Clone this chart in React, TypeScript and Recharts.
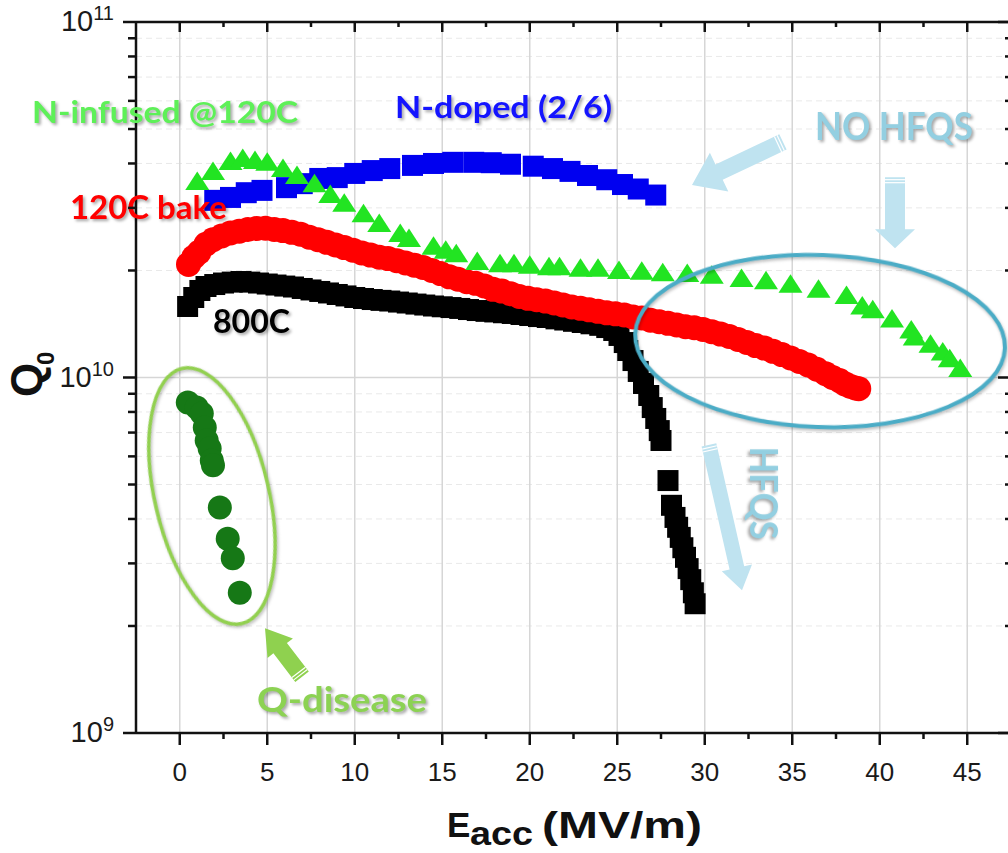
import React from 'react';
import { ScatterChart, Scatter, XAxis, YAxis, ReferenceLine, ReferenceDot } from 'recharts';

// ---------- data (Q in units of 1e10) ----------
const Q_UNIT = 1e10;

// 800C (black squares)
const E_800 = [
  0.45, 0.8, 1.15, 1.5, 2.0, 2.5, 3.0, 3.5, 4.0, 4.5,
  5.0, 5.5, 6.0, 6.5, 7.0, 7.5, 8.0, 8.5, 9.0, 9.5,
  10.0, 10.5, 11.0, 11.5, 12.0, 12.5, 13.0, 13.5, 14.0, 14.5,
  15.0, 15.5, 16.0, 16.5, 17.0, 17.5, 18.0, 18.5, 19.0, 19.5,
  20.0, 20.5, 21.0, 21.5, 22.0, 22.5, 23.0, 23.5, 24.0, 24.4,
  24.8, 25.1, 25.4, 25.6, 25.9, 26.2, 26.5, 26.8, 27.0, 27.2,
  27.4, 27.5, 27.9, 28.1, 28.3, 28.45, 28.6, 28.75, 28.9, 29.05,
  29.2, 29.35, 29.45,
];
const Q_800 = [
  1.584, 1.679, 1.757, 1.803, 1.826, 1.844, 1.855, 1.862, 1.855, 1.844,
  1.832, 1.82, 1.808, 1.797, 1.78, 1.763, 1.746, 1.729, 1.712, 1.696,
  1.679, 1.668, 1.657, 1.648, 1.641, 1.63, 1.62, 1.609, 1.599, 1.589,
  1.581, 1.573, 1.564, 1.553, 1.543, 1.535, 1.529, 1.521, 1.514, 1.504,
  1.494, 1.484, 1.475, 1.462, 1.451, 1.439, 1.428, 1.416, 1.402, 1.382,
  1.356, 1.313, 1.254, 1.191, 1.116, 1.04, 0.962, 0.89, 0.823, 0.767,
  0.709, 0.665, 0.513, 0.437, 0.404, 0.379, 0.355, 0.332, 0.312, 0.29,
  0.27, 0.248, 0.231,
];

// 120C bake (red circles)
const E_BAKE = [
  0.5, 0.8, 1.1, 1.5, 1.9, 2.4, 2.9, 3.4, 3.9, 4.4,
  4.9, 5.4, 5.9, 6.4, 6.9, 7.4, 7.9, 8.4, 8.9, 9.4,
  9.9, 10.4, 10.9, 11.4, 11.9, 12.4, 12.9, 13.4, 13.9, 14.4,
  14.9, 15.4, 15.9, 16.4, 16.9, 17.4, 17.9, 18.4, 18.9, 19.4,
  19.9, 20.4, 20.9, 21.4, 21.9, 22.4, 22.9, 23.4, 23.9, 24.4,
  24.9, 25.4, 25.9, 26.4, 26.9, 27.4, 27.9, 28.4, 28.9, 29.4,
  29.9, 30.4, 30.9, 31.4, 31.9, 32.4, 32.9, 33.4, 33.9, 34.4,
  34.9, 35.4, 35.9, 36.4, 36.9, 37.3, 37.7, 38.0, 38.3, 38.6,
  38.8,
];
const Q_BAKE = [
  2.08, 2.18, 2.25, 2.37, 2.44, 2.5, 2.55, 2.58, 2.61, 2.625,
  2.63, 2.61, 2.59, 2.56, 2.53, 2.48, 2.44, 2.4, 2.36, 2.32,
  2.28, 2.24, 2.21, 2.18, 2.16, 2.13, 2.1, 2.07, 2.04, 2.0,
  1.96, 1.92, 1.89, 1.86, 1.84, 1.81, 1.77, 1.75, 1.72, 1.69,
  1.67, 1.655, 1.64, 1.62, 1.6, 1.58, 1.565, 1.55, 1.535, 1.52,
  1.51, 1.5, 1.48, 1.47, 1.45, 1.435, 1.42, 1.405, 1.39, 1.38,
  1.365, 1.345, 1.325, 1.305, 1.28, 1.255, 1.23, 1.21, 1.185, 1.16,
  1.135, 1.11, 1.085, 1.055, 1.025, 1.0, 0.98, 0.96, 0.945, 0.935,
  0.93,
];

// N-doped (2/6) (blue squares)
const E_NDOPED = [
  2.0, 2.9, 3.8, 4.7, 6.1, 7.0, 8.0, 9.0, 10.0, 11.0,
  12.0, 13.3, 14.5, 15.6, 16.8, 17.8, 18.9, 20.2, 21.3, 22.3,
  23.3, 24.4, 25.3, 26.2, 27.2,
];
const Q_NDOPED = [
  3.15, 3.21, 3.31, 3.36, 3.42, 3.51, 3.63, 3.65, 3.75, 3.82,
  3.87, 3.95, 4.0, 4.03, 4.03, 4.02, 3.98, 3.93, 3.87, 3.8,
  3.7, 3.6, 3.49, 3.39, 3.26,
];

// N-infused @120C (green triangles)
const E_NINF = [
  1.0, 1.9, 2.9, 3.6, 4.3, 5.0, 5.9, 6.7, 7.7, 8.6,
  9.4, 10.5, 11.4, 12.6, 13.1, 14.5, 15.2, 15.8, 17.0, 18.3,
  19.1, 20.0, 21.1, 21.7, 22.9, 23.9, 25.1, 26.4, 27.6, 29.0,
  30.4, 32.1, 33.5, 34.9, 36.5, 38.1, 39.0, 39.6, 40.7, 41.8,
  42.0, 42.9, 43.6, 44.0, 44.6,
];
const Q_NINF = [
  3.56, 3.8, 4.05, 4.13, 4.08, 4.03, 3.87, 3.7, 3.51, 3.27,
  3.09, 2.89, 2.71, 2.54, 2.46, 2.34, 2.28, 2.23, 2.12, 2.09,
  2.09, 2.07, 2.05, 2.05, 2.03, 2.03, 2.0, 1.99, 1.97, 1.96,
  1.94, 1.9, 1.87, 1.83, 1.77, 1.7, 1.59, 1.55, 1.46, 1.36,
  1.3, 1.24, 1.18, 1.13, 1.06,
];

// Q-disease (dark green circles)
const E_QDIS = [0.46, 0.97, 1.26, 1.43, 1.54, 1.71, 1.83, 1.9, 2.29, 2.74, 3.03, 3.43];
const Q_QDIS = [0.851, 0.823, 0.792, 0.723, 0.665, 0.631, 0.584, 0.566, 0.431, 0.352, 0.31, 0.248];

// axes
const X_DOMAIN = [-2.5, 47.5];
const X_MAJOR = [0, 5, 10, 15, 20, 25, 30, 35, 40, 45];
const X_MINOR = [2.5, 7.5, 12.5, 17.5, 22.5, 27.5, 32.5, 37.5, 42.5];
const Y_DOMAIN = [1e9, 1e11];
const Y_MAJOR = [1e9, 1e10, 1e11];
const Y_MINOR = [2e9, 3e9, 4e9, 5e9, 6e9, 7e9, 8e9, 9e9, 2e10, 3e10, 4e10, 5e10, 6e10, 7e10, 8e10, 9e10];

const X_TICKS = [...X_MAJOR, ...X_MINOR].sort((a, b) => a - b);
const Y_TICKS = [...Y_MAJOR, ...Y_MINOR].sort((a, b) => a - b);

const toPoints = (es: number[], qs: number[]) => es.map((e, i) => ({ x: e, y: qs[i] * Q_UNIT }));
const d800 = toPoints(E_800, Q_800);
const dBake = toPoints(E_BAKE, Q_BAKE);
const dNdoped = toPoints(E_NDOPED, Q_NDOPED);
const dNinf = toPoints(E_NINF, Q_NINF);
const dQdis = toPoints(E_QDIS, Q_QDIS);

// annotations (data coordinates)
type Note = { text: string; x: number; y: number; color: string; size: number; len: number; rotate?: number };
const NOTES: Note[] = [
  { text: 'N-infused @120C', x: -0.84, y: 5.2e10, color: '#5ef058', size: 31, len: 266 },
  { text: 'N-doped (2/6)', x: 18.5, y: 5.37e10, color: '#1414ff', size: 31, len: 217 },
  { text: '120C bake', x: -1.79, y: 2.79e10, color: '#ff0000', size: 32, len: 157 },
  { text: '800C', x: 4.1, y: 1.334e10, color: '#000000', size: 32, len: 77 },
  { text: 'NO HFQS', x: 40.81, y: 4.66e10, color: '#93cfe1', size: 38, len: 158 },
  { text: 'HFQS', x: 33.44, y: 4.73e9, color: '#93cfe1', size: 38, len: 93, rotate: 90 },
  { text: 'Q-disease', x: 9.27, y: 1.146e9, color: '#8cd253', size: 34, len: 170 },
];

type Arrow = { x1: number; y1: number; x2: number; y2: number; w: number; hw: number; hl: number; color: string };
const ARROWS: Arrow[] = [
  { x1: 34.47, y1: 4.6e10, x2: 29.27, y2: 3.48e10, w: 17, hw: 43, hl: 30, color: '#bfe3f0' },
  { x1: 40.87, y1: 3.66e10, x2: 40.87, y2: 2.31e10, w: 20, hw: 40, hl: 19, color: '#bfe3f0' },
  { x1: 30.24, y1: 6.46e9, x2: 32.13, y2: 2.52e9, w: 15, hw: 31, hl: 23, color: '#bfe3f0' },
  { x1: 6.99, y1: 1.44e9, x2: 4.87, y2: 1.97e9, w: 17, hw: 32, hl: 25, color: '#8fd14f' },
];

type Oval = { x: number; y: number; rx: number; ry: number; angle: number; color: string; sw: number };
const OVALS: Oval[] = [
  { x: 1.84, y: 4.64e9, rx: 57, ry: 131, angle: -13.2, color: '#92d050', sw: 3.5 },
  { x: 36.59, y: 1.267e10, rx: 185, ry: 86, angle: 2.2, color: '#4bacc6', sw: 4 },
];

const FONT_AXIS = "'Liberation Sans', Arial, sans-serif";
const FONT_NOTE = "Lato, 'Open Sans', sans-serif";

// ---------- tick renderers ----------
const BottomTick = (p: any) => {
  const { x, y, payload } = p;
  const v = payload.value;
  const major = X_MAJOR.includes(v);
  return (
    <g>
      <line x1={x} x2={x} y1={y} y2={y + (major ? 12 : 6)} stroke="#111" strokeWidth={2.5} />
      {major && (
        <text x={x} y={y + 48} textAnchor="middle" fontSize={26} fontFamily={FONT_AXIS} fill="#1a1a1a">
          {v}
        </text>
      )}
    </g>
  );
};

const TopTick = (p: any) => {
  const { x, y, payload } = p;
  const major = X_MAJOR.includes(payload.value);
  return <line x1={x} x2={x} y1={y} y2={y + (major ? 10 : 5)} stroke="#111" strokeWidth={2.5} />;
};

const LeftTick = (p: any) => {
  const { x, y, payload } = p;
  const v = payload.value;
  const major = Y_MAJOR.includes(v);
  const exp = Math.round(Math.log10(v));
  return (
    <g>
      <line x1={x - (major ? 13 : 8)} x2={x} y1={y} y2={y} stroke="#111" strokeWidth={2.5} />
      {major && (
        <text x={x - 22} y={y + 9} textAnchor="end" fontSize={29} fontFamily={FONT_AXIS} fill="#1a1a1a">
          10
          <tspan dy={-11} fontSize={20}>
            {exp}
          </tspan>
        </text>
      )}
    </g>
  );
};

const RightTick = (p: any) => {
  const { x, y, payload } = p;
  const major = Y_MAJOR.includes(payload.value);
  return <line x1={x - (major ? 13 : 6)} x2={x} y1={y} y2={y} stroke="#111" strokeWidth={2.5} />;
};

// ---------- axis labels ----------
const XLabel = (p: any) => {
  const vb = p.viewBox || { x: 136, y: 733, width: 875, height: 1 };
  const cx = vb.x + vb.width / 2;
  const y = vb.y;
  return (
    <g fontFamily={FONT_AXIS} fontWeight={700} fill="#111">
      <text x={cx - 126.5} y={y + 104} fontSize={35}>E</text>
      <text x={cx - 103.5} y={y + 112} fontSize={34} textLength={63} lengthAdjust="spacingAndGlyphs">acc</text>
      <text x={cx - 31.5} y={y + 105} fontSize={36} textLength={160} lengthAdjust="spacingAndGlyphs">(MV/m)</text>
    </g>
  );
};

const QLabel = (p: any) => {
  const vb = p.viewBox || { x: 135, y: 22, width: 1, height: 711 };
  const x = vb.x + vb.width - 94;
  const y = vb.y + vb.height / 2 + 19.5;
  return (
    <g transform={`translate(${x},${y}) rotate(-90)`} fontFamily={FONT_AXIS} fontWeight={700} fill="#111">
      <text x={0} y={0} fontSize={44}>Q</text>
      <text x={32} y={12} fontSize={24}>0</text>
    </g>
  );
};

// ---------- marker shapes ----------
const squareShape = (color: string, s: number) => (p: any) =>
  <rect x={p.cx - s / 2} y={p.cy - s / 2} width={s} height={s} fill={color} />;
const circleShape = (color: string, r: number) => (p: any) => <circle cx={p.cx} cy={p.cy} r={r} fill={color} />;
const triangleShape = (color: string) => (p: any) => (
  <polygon points={`${p.cx},${p.cy - 10} ${p.cx - 12},${p.cy + 8.5} ${p.cx + 12},${p.cy + 8.5}`} fill={color} />
);

// ---------- annotation shapes ----------
const shadow = { filter: 'drop-shadow(2px 2px 1.5px rgba(0,0,0,0.35))' };

const noteShape = (n: Note) => (p: any) => {
  const common = {
    fontFamily: FONT_NOTE,
    fontWeight: 700,
    fontSize: n.size,
    fill: n.color,
    textLength: n.len,
    lengthAdjust: 'spacingAndGlyphs',
    style: shadow,
  } as any;
  if (n.rotate) {
    return (
      <text
        x={p.cx}
        y={p.cy}
        textAnchor="middle"
        dominantBaseline="central"
        transform={`rotate(${n.rotate} ${p.cx} ${p.cy})`}
        {...common}
      >
        {n.text}
      </text>
    );
  }
  return (
    <text x={p.cx} y={p.cy} textAnchor="middle" {...common}>
      {n.text}
    </text>
  );
};

const ovalShape = (o: Oval) => (p: any) => (
  <ellipse
    cx={p.cx}
    cy={p.cy}
    rx={o.rx}
    ry={o.ry}
    transform={`rotate(${o.angle} ${p.cx} ${p.cy})`}
    fill="none"
    stroke={o.color}
    strokeWidth={o.sw}
    style={{ filter: 'drop-shadow(1.5px 2px 1.5px rgba(0,0,0,0.25))' }}
  />
);

const arrowShape = (a: Arrow) => (p: any) => {
  const { x1, y1, x2, y2 } = p;
  if (![x1, y1, x2, y2].every((v) => typeof v === 'number' && isFinite(v))) return <g />;
  const dx = x2 - x1;
  const dy = y2 - y1;
  const L = Math.hypot(dx, dy) || 1;
  const ux = dx / L;
  const uy = dy / L;
  const nx = -uy;
  const ny = ux;
  const bx = x2 - ux * a.hl;
  const by = y2 - uy * a.hl;
  const pt = (px: number, py: number) => `${px.toFixed(1)},${py.toFixed(1)}`;
  const pts = [
    pt(x1 + (nx * a.w) / 2, y1 + (ny * a.w) / 2),
    pt(bx + (nx * a.w) / 2, by + (ny * a.w) / 2),
    pt(bx + (nx * a.hw) / 2, by + (ny * a.hw) / 2),
    pt(x2, y2),
    pt(bx - (nx * a.hw) / 2, by - (ny * a.hw) / 2),
    pt(bx - (nx * a.w) / 2, by - (ny * a.w) / 2),
    pt(x1 - (nx * a.w) / 2, y1 - (ny * a.w) / 2),
  ].join(' ');
  const stripe = (d: number) => (
    <line
      x1={x1 + ux * d + (nx * a.w) / 2}
      y1={y1 + uy * d + (ny * a.w) / 2}
      x2={x1 + ux * d - (nx * a.w) / 2}
      y2={y1 + uy * d - (ny * a.w) / 2}
      stroke="#ffffff"
      strokeWidth={1.2}
    />
  );
  return (
    <g>
      <polygon points={pts} fill={a.color} />
      {stripe(2.5)}
      {stripe(5.5)}
    </g>
  );
};

const axisCommon = {
  type: 'number' as const,
  interval: 0 as const,
  allowDataOverflow: true,
  tickLine: false,
  tickSize: 0,
  tickMargin: 0,
  axisLine: { stroke: '#111', strokeWidth: 2.5 },
};

export default function App() {
  return (
    <div style={{ width: 1008, height: 853, overflow: 'hidden', background: '#fff' }}>
      <style>{'body{margin:0;background:#fff;}'}</style>
      <ScatterChart width={1012} height={853} margin={{ top: 21, right: 0, bottom: 119, left: 135 }}>
        <XAxis
          {...axisCommon}
          dataKey="x"
          domain={X_DOMAIN}
          ticks={X_TICKS}
          height={1}
          tick={(p: any) => <BottomTick {...p} />}
          label={<XLabel />}
        />
        <XAxis
          {...axisCommon}
          xAxisId="top"
          orientation="top"
          dataKey="x"
          domain={X_DOMAIN}
          ticks={X_TICKS}
          height={1}
          tick={(p: any) => <TopTick {...p} />}
        />
        <YAxis
          {...axisCommon}
          dataKey="y"
          scale="log"
          domain={Y_DOMAIN}
          ticks={Y_TICKS}
          width={1}
          tick={(p: any) => <LeftTick {...p} />}
          label={<QLabel />}
        />
        <YAxis
          {...axisCommon}
          yAxisId="right"
          orientation="right"
          dataKey="y"
          scale="log"
          domain={Y_DOMAIN}
          ticks={Y_TICKS}
          width={1}
          tick={(p: any) => <RightTick {...p} />}
        />

        {/* grid */}
        {Y_MINOR.map((v) => (
          <ReferenceLine key={`gy${v}`} y={v} stroke="#e9e9e9" strokeWidth={1} strokeDasharray="6 4" zIndex={-100} />
        ))}
        {X_MAJOR.map((v) => (
          <ReferenceLine key={`gx${v}`} x={v} stroke="#d6d6d6" strokeWidth={1.5} zIndex={-100} />
        ))}
        <ReferenceLine y={1e10} stroke="#d6d6d6" strokeWidth={1.5} zIndex={-100} />

        {/* series */}
        <Scatter name="800C" data={d800} fill="#000" shape={squareShape('#000000', 21)} isAnimationActive={false} />
        <Scatter name="120C bake" data={dBake} fill="#f00" shape={circleShape('#ff0000', 12.5)} isAnimationActive={false} />
        <Scatter name="N-doped (2/6)" data={dNdoped} fill="#00f" shape={squareShape('#0000f0', 21)} isAnimationActive={false} />
        <Scatter name="N-infused @120C" data={dNinf} fill="#2e2" shape={triangleShape('#22e422')} isAnimationActive={false} />
        <Scatter name="Q-disease" data={dQdis} fill="#157a15" shape={circleShape('#167816', 12)} isAnimationActive={false} />

        {/* annotations */}
        {OVALS.map((o, i) => (
          <ReferenceDot key={`ov${i}`} x={o.x} y={o.y} r={0} shape={ovalShape(o)} zIndex={1500} />
        ))}
        {ARROWS.map((a, i) => (
          <ReferenceLine
            key={`ar${i}`}
            segment={[
              { x: a.x1, y: a.y1 },
              { x: a.x2, y: a.y2 },
            ]}
            shape={arrowShape(a)}
            zIndex={1500}
          />
        ))}
        {NOTES.map((n, i) => (
          <ReferenceDot key={`nt${i}`} x={n.x} y={n.y} r={0} shape={noteShape(n)} zIndex={1600} />
        ))}
      </ScatterChart>
    </div>
  );
}
